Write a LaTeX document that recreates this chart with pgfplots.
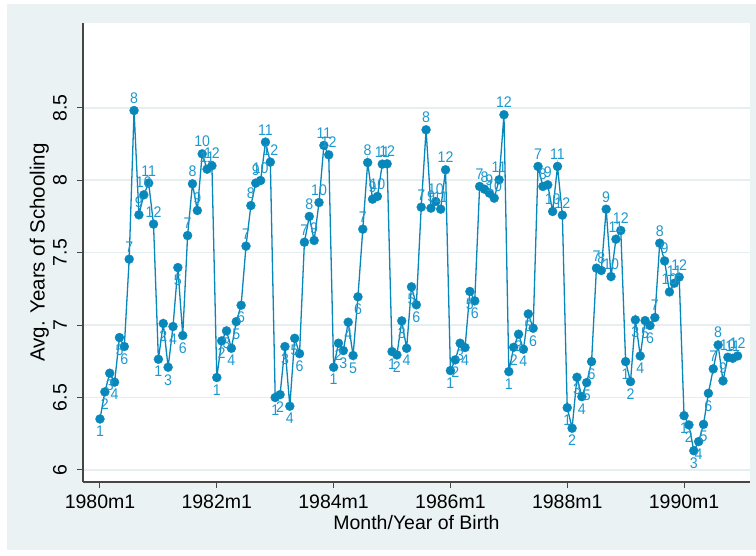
\documentclass[border=0pt]{standalone}
\usepackage{fontspec}
\setmainfont{Liberation Sans}
\newfontfamily\mlabfont{Liberation Sans}[FakeStretch=0.92]
\usepackage{pgfplots}
\pgfplotsset{compat=1.18}
\usepackage{pgfplotstable}

\definecolor{stbg}{RGB}{234,242,243}
\definecolor{stgrid}{RGB}{230,238,240}
\definecolor{mk}{RGB}{8,135,186}
\definecolor{lab}{RGB}{30,153,207}
\definecolor{axc}{RGB}{70,70,70}

% avg years of schooling by month of birth
\pgfplotstableread{
yr m y
1980 1 6.352
1980 2 6.539
1980 3 6.668
1980 4 6.606
1980 5 6.914
1980 6 6.852
1980 7 7.455
1980 8 8.481
1980 9 7.761
1980 10 7.899
1980 11 7.980
1980 12 7.697
1981 1 6.764
1981 2 7.011
1981 3 6.709
1981 4 6.990
1981 5 7.397
1981 6 6.928
1981 7 7.618
1981 8 7.975
1981 9 7.791
1981 10 8.182
1981 11 8.076
1981 12 8.100
1982 1 6.638
1982 2 6.891
1982 3 6.960
1982 4 6.840
1982 5 7.024
1982 6 7.137
1982 7 7.545
1982 8 7.825
1982 9 7.980
1982 10 7.998
1982 11 8.263
1982 12 8.125
1983 1 6.500
1983 2 6.520
1983 3 6.852
1983 4 6.440
1983 5 6.909
1983 6 6.803
1983 7 7.572
1983 8 7.750
1983 9 7.584
1983 10 7.846
1983 11 8.240
1983 12 8.175
1984 1 6.709
1984 2 6.875
1984 3 6.824
1984 4 7.020
1984 5 6.790
1984 6 7.195
1984 7 7.662
1984 8 8.122
1984 9 7.869
1984 10 7.888
1984 11 8.111
1984 12 8.113
1985 1 6.817
1985 2 6.794
1985 3 7.029
1985 4 6.840
1985 5 7.264
1985 6 7.140
1985 7 7.814
1985 8 8.348
1985 9 7.807
1985 10 7.853
1985 11 7.800
1985 12 8.072
1986 1 6.686
1986 2 6.760
1986 3 6.875
1986 4 6.845
1986 5 7.232
1986 6 7.167
1986 7 7.957
1986 8 7.938
1986 9 7.911
1986 10 7.876
1986 11 8.003
1986 12 8.452
1987 1 6.679
1987 2 6.847
1987 3 6.937
1987 4 6.833
1987 5 7.077
1987 6 6.978
1987 7 8.095
1987 8 7.957
1987 9 7.968
1987 10 7.784
1987 11 8.095
1987 12 7.759
1988 1 6.430
1988 2 6.288
1988 3 6.640
1988 4 6.506
1988 5 6.603
1988 6 6.748
1988 7 7.393
1988 8 7.377
1988 9 7.800
1988 10 7.335
1988 11 7.593
1988 12 7.653
1989 1 6.748
1989 2 6.610
1989 3 7.036
1989 4 6.787
1989 5 7.031
1989 6 6.997
1989 7 7.052
1989 8 7.565
1989 9 7.443
1989 10 7.229
1989 11 7.289
1989 12 7.331
1990 1 6.375
1990 2 6.311
1990 3 6.133
1990 4 6.196
1990 5 6.315
1990 6 6.529
1990 7 6.698
1990 8 6.863
1990 9 6.615
1990 10 6.778
1990 11 6.771
1990 12 6.787
}\schooling

\begin{document}
\begin{tikzpicture}[x=1pt,y=1pt]
\fill[stbg] (7,5) rectangle (756,551);
\begin{axis}[
  at={(83pt,73pt)}, anchor=south west,
  scale only axis, width=667pt, height=459pt,
  xmin=-3.49, xmax=133.55, ymin=5.917, ymax=9.085,
  axis lines*=left,
  axis line style={axc, line width=1.3pt},
  axis background/.style={fill=white},
  xtick={0,24,48,72,96,120},
  xticklabels={1980m1,1982m1,1984m1,1986m1,1988m1,1990m1},
  ytick={6,6.5,7,7.5,8,8.5},
  yticklabels={6,6.5,7,7.5,8,8.5},
  tick align=outside, major tick length=6pt,
  tick style={axc, line width=1pt},
  ymajorgrids, grid style={stgrid, line width=1.5pt},
  xticklabel style={font=\fontsize{19.5}{22}\selectfont, inner sep=0pt, yshift=-7pt},
  yticklabel style={xshift=-10pt, rotate=90, anchor=south, inner sep=0pt, font=\fontsize{19.5}{22}\selectfont},
  every axis x label/.style={at={(axis description cs:0.5,0)}, yshift=-47.4pt, anchor=base, font=\fontsize{19.5}{22}\selectfont},
  every axis y label/.style={at={(axis description cs:0,0.5)}, xshift=-38.3pt, rotate=90, anchor=base, font=\fontsize{20.5}{22}\selectfont},
  xlabel={Month/Year of Birth},
  ylabel={Avg. Years of Schooling},
  table/x expr={(\thisrow{yr}-1980)*12+\thisrow{m}-1},
  table/y=y, table/meta=m,
  mlab/.style={draw=none, mark=none, point meta=explicit symbolic, nodes near coords,
    every node near coord/.append style={anchor=#1, text=lab, inner sep=0pt, outer sep=7pt,
      font=\mlabfont\fontsize{15.4}{16}\selectfont}},
]
\addplot[mk, line width=1.3pt, mark=*, mark size=4.5pt,
  mark options={fill=mk, draw=mk, line width=0.3pt}] table {\schooling};
% month labels: Jan-Jun below the point, Jul-Dec above
\addplot[mlab=north, restrict expr to domain={\thisrow{m}}{1:6}] table {\schooling};
\addplot[mlab=south, restrict expr to domain={\thisrow{m}}{7:12}] table {\schooling};
\end{axis}
\pgfresetboundingbox
\path[use as bounding box] (0,0) rectangle (756,555);
\end{tikzpicture}
\end{document}
